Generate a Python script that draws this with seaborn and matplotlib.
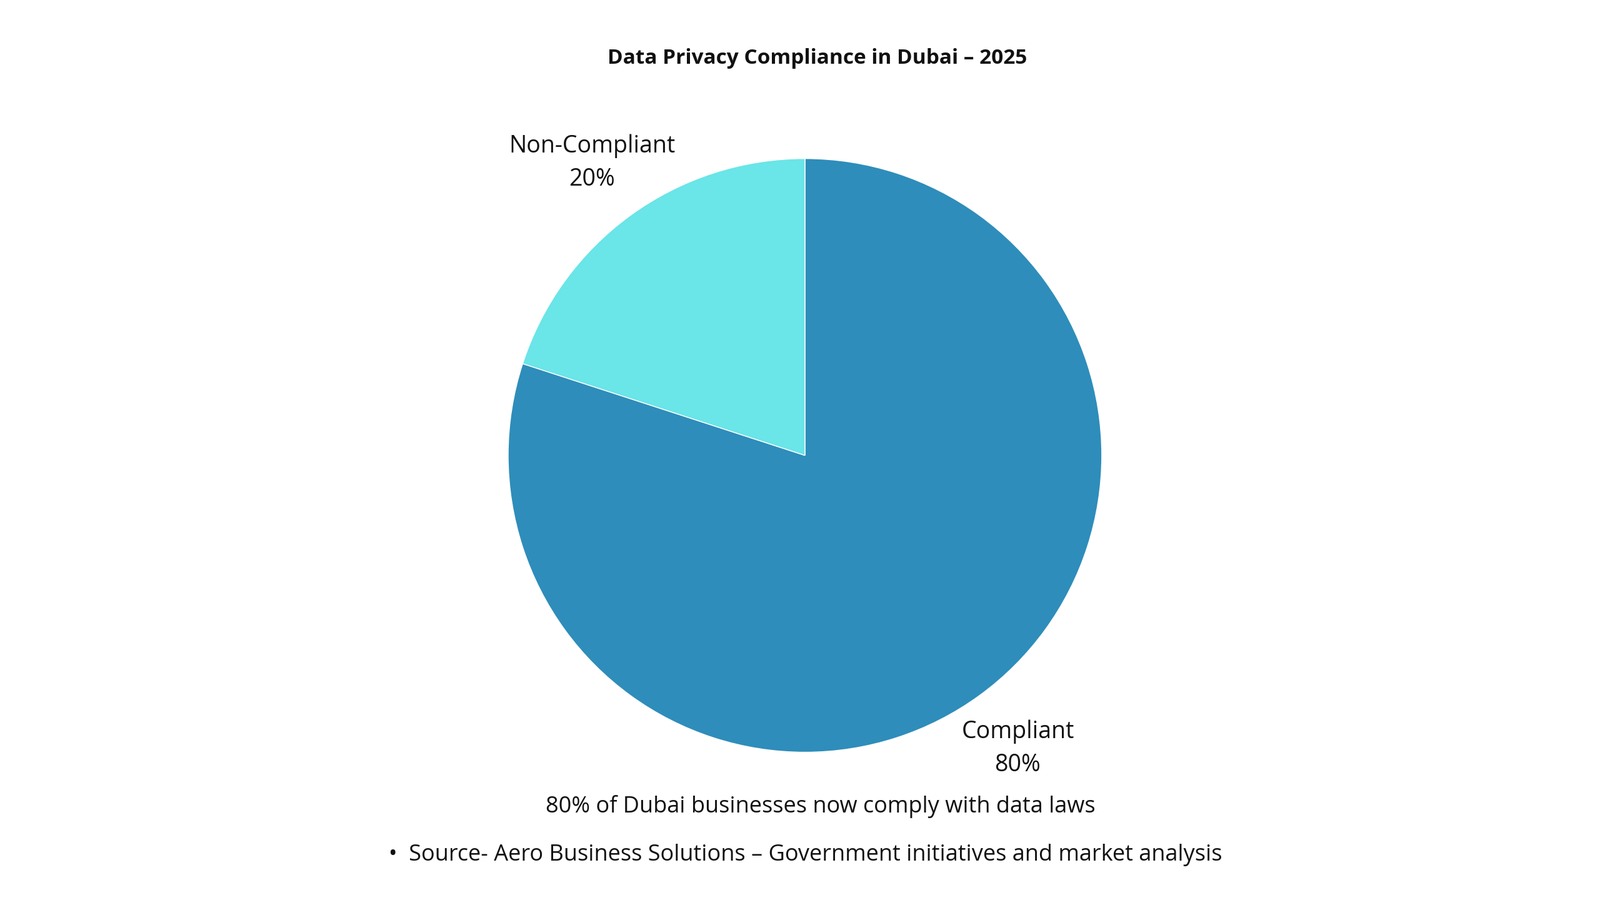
import matplotlib
matplotlib.use("Agg")
import matplotlib.pyplot as plt
import seaborn as sns

categories = ["Compliant", "Non-Compliant"]
shares = [80, 20]
colors = ["#2E8DBA", "#6AE5E8"]
title = "Data Privacy Compliance in Dubai – 2025"
caption = "80% of Dubai businesses now comply with data laws"
source = "•  Source- Aero Business Solutions – Government initiatives and market analysis"

sns.set_theme(style="white", font="Open Sans")
fig = plt.figure(figsize=(25.6, 14.4), dpi=100)
ax = fig.add_axes([0.3176, 0.164, 0.371, 0.660])
labels = [f"{c}\n{v}%" for c, v in zip(categories, shares)]
wedges, texts = ax.pie(shares, labels=labels, colors=sns.color_palette(colors),
                       startangle=90, counterclock=False, labeldistance=1.22,
                       textprops=dict(fontsize=27, color="#111111", ha="center", va="center", linespacing=1.5))
ax.set_xlim(-1, 1); ax.set_ylim(-1, 1); ax.set_aspect("equal"); ax.axis("off")
fig.text(0.511, 0.935, title, ha="center", va="center", fontsize=24, fontweight="bold", color="#111111")
fig.text(0.513, 0.104, caption, ha="center", va="center", fontsize=26, color="#111111")
fig.text(0.243, 0.05, source, ha="left", va="center", fontsize=26, color="#111111")
fig.savefig("out.png", dpi=100, facecolor="white")
